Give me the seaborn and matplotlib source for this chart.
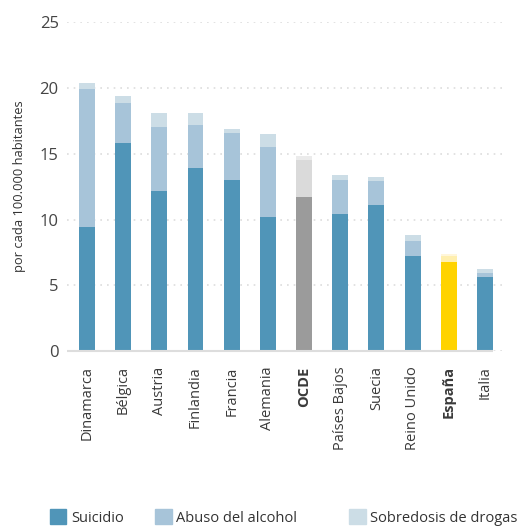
import matplotlib
matplotlib.use("Agg")
import matplotlib.pyplot as plt
import matplotlib.patches as mpatches
import seaborn as sns
import pandas as pd

sns.set_theme(style="white")
plt.rcParams["font.family"] = ["Open Sans", "DejaVu Sans"]

# data (tasas por 100.000 habitantes)
paises = ["Dinamarca", "Bélgica", "Austria", "Finlandia", "Francia", "Alemania",
          "OCDE", "Países Bajos", "Suecia", "Reino Unido", "España", "Italia"]
suicidio = [9.4, 15.8, 12.2, 13.9, 13.0, 10.2, 11.7, 10.4, 11.1, 7.2, 6.8, 5.6]
alcohol = [10.5, 3.1, 4.8, 3.3, 3.6, 5.3, 2.8, 2.6, 1.8, 1.2, 0.45, 0.35]
drogas = [0.5, 0.5, 1.1, 0.9, 0.3, 1.0, 0.3, 0.4, 0.3, 0.4, 0.15, 0.25]
destacados = ["OCDE", "España"]

colores = {
    "default": ["#5095b8", "#a7c4d9", "#ccdde6"],
    "OCDE": ["#9b9b9b", "#dadada", "#ebebeb"],
    "España": ["#ffd300", "#ffefaf", "#fff6da"],
}

df = pd.DataFrame({"pais": paises, "suicidio": suicidio,
                   "alcohol": alcohol, "drogas": drogas})
df["alc_top"] = df["suicidio"] + df["alcohol"]
df["total"] = df["alc_top"] + df["drogas"]

fig = plt.figure(figsize=(5.23, 5.27), dpi=100)
ax = fig.add_axes([67 / 523, 1 - 351 / 527, 435 / 523, (351 - 22.3) / 527])

# draw stacked layers from the top down so each bar overlays the previous
layers = [("total", 2), ("alc_top", 1), ("suicidio", 0)]
for col, idx in layers:
    pal = [colores.get(p, colores["default"])[idx] for p in paises]
    sns.barplot(data=df, x="pais", y=col, hue="pais", palette=pal,
                order=paises, hue_order=paises, legend=False,
                width=0.44, saturation=1, linewidth=0, edgecolor="none",
                ax=ax, zorder=3)

ax.set_ylim(0, 25)
ax.set_xlim(-0.55, 11.47)
ax.set_yticks([0, 5, 10, 15, 20, 25])
ax.yaxis.grid(True, linestyle=(0, (1, 3)), color="#dddddd", linewidth=1.2, zorder=0)
ax.xaxis.grid(False)
for s in ax.spines.values():
    s.set_visible(False)
ax.plot([-0.55, 11.22], [0, 0], color="#dddddd", linewidth=1.5, zorder=4,
        solid_capstyle="butt", clip_on=False)

ax.tick_params(axis="y", length=0, pad=6, labelsize=12, labelcolor="#444444")
ax.tick_params(axis="x", length=0, pad=11, labelsize=10.5, labelcolor="#3a3a3a")
ax.set_xticks(range(len(paises)))
ax.set_xticklabels(paises, rotation=90)
for lab in ax.get_xticklabels():
    if lab.get_text() in destacados:
        lab.set_fontweight("bold")
ax.set_xlabel("")
ax.set_ylabel("por cada 100.000 habitantes", fontsize=9.3, color="#333333", labelpad=10)

# legend, three entries at fixed spots like the original
etiquetas = ["Suicidio", "Abuso del alcohol", "Sobredosis de drogas"]
xs = [0.081, 0.282, 0.654]
for i, (lab, x) in enumerate(zip(etiquetas, xs)):
    h = mpatches.Patch(color=colores["default"][i], label=lab)
    fig.legend(handles=[h], loc="center left", bbox_to_anchor=(x, 0.018),
               frameon=False, fontsize=10.5, handlelength=1.15, handleheight=1.15,
               handletextpad=0.3, borderpad=0, labelcolor="#333333")

fig.savefig("out.png", dpi=100)
